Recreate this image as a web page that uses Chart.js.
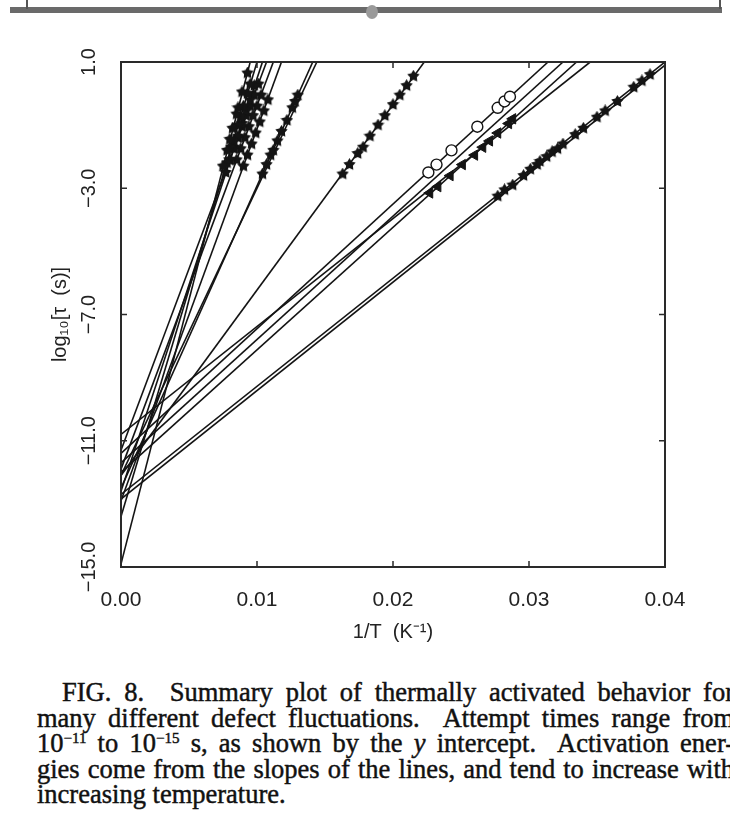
<!DOCTYPE html>
<html>
<head>
<meta charset="utf-8">
<script src="https://cdn.jsdelivr.net/npm/chart.js@4.4.1/dist/chart.umd.min.js"></script>
<style>
  html, body { margin: 0; padding: 0; background: #fff; width: 730px; height: 817px; overflow: hidden; position: relative; }
  #plot { position: absolute; left: 0; top: 0; }
  .rule { position: absolute; left: 10px; top: 7px; width: 712px; height: 6px; background: #6a6a6a; }
  .rule-l { position: absolute; left: 26px; top: 0; width: 2px; height: 9px; background: #555; }
  .rule-r { position: absolute; left: 719px; top: 0; width: 2px; height: 9px; background: #555; }
  .pin { position: absolute; left: 366px; top: 5px; width: 12px; height: 14px; border-radius: 50%; background: #9a9a9a; }
  .caption { position: absolute; left: 37px; top: 680px; width: 697px;
             font-family: "Liberation Serif", "Times New Roman", serif; font-size: 26.5px;
             line-height: 25.5px; color: #111; -webkit-text-stroke: 0.45px #111; }
  .caption .j { text-align: justify; text-align-last: justify; }
  .caption .first { text-indent: 25px; }
  .caption sup { font-size: 15px; line-height: 0; vertical-align: 9px; }
</style>
</head>
<body>
<div class="rule"></div><div class="rule-l"></div><div class="rule-r"></div><div class="pin"></div>
<canvas id="plot" width="730" height="650"></canvas>
<div class="caption">
  <div class="j first">FIG. 8.&nbsp; Summary plot of thermally activated behavior for</div>
  <div class="j">many different defect fluctuations.&nbsp; Attempt times range from</div>
  <div class="j">10<sup>−11</sup> to 10<sup>−15</sup> s, as shown by the <i>y</i> intercept.&nbsp; Activation ener-</div>
  <div class="j">gies come from the slopes of the lines, and tend to increase with</div>
  <div>increasing temperature.</div>
</div>
<script>
// Axis ticks and labels
const xTicks = [0, 0.01, 0.02, 0.03, 0.04];
const xTickLabels = ['0.00', '0.01', '0.02', '0.03', '0.04'];
const yTicks = [-15, -11, -7, -3, 1];
const yTickLabels = ['\u221215.0', '\u221211.0', '\u22127.0', '\u22123.0', '1.0'];
const xTitle = '1/T  (K\u207B\u00B9)';
const yTitle = 'log\u2081\u2080[\u03C4  (s)]';

// Arrhenius fit lines: intercept at 1/T = 0, running up to the end point
const fitIntercepts = [-14.9, -13.4, -12.6, -11.3, -11.9, -12.9, -12.5, -12.1, -12.1, -11.4, -11.7, -12.0, -10.8, -12.7, -12.85];
const fitEndX = [0.0095, 0.0100, 0.0104, 0.0107, 0.0112, 0.0118, 0.0141, 0.0144, 0.0223, 0.0314, 0.0325, 0.0335, 0.0345, 0.0400, 0.0400];
const fitEndY = [1.0, 1.0, 1.0, 1.0, 1.0, 1.0, 1.0, 1.0, 1.0, 1.0, 1.0, 1.0, 1.0, 1.0, 0.9];

// Measured points [1/T, log10 tau]
const starsA1 = [[0.0075,-2.3],[0.0078,-1.8],[0.0080,-1.45],[0.0082,-1.1],[0.0085,-0.65],[0.0086,-0.45],[0.0089,0.05],[0.0093,0.65]];
const starsA2 = [[0.0078,-2.2],[0.0081,-1.7],[0.0083,-1.5],[0.0086,-1.0],[0.0088,-0.75],[0.0090,-0.4],[0.0093,0.0],[0.0095,0.3]];
const starsA3 = [[0.0077,-2.5],[0.0080,-2.1],[0.0083,-1.7],[0.0086,-1.35],[0.0089,-0.95],[0.0092,-0.55],[0.0095,-0.2],[0.0098,0.25]];
const starsA4 = [[0.0080,-2.1],[0.0083,-1.75],[0.0086,-1.4],[0.0089,-1.05],[0.0092,-0.7],[0.0095,-0.4],[0.0098,-0.05],[0.0101,0.3]];
const starsA5 = [[0.0085,-2.1],[0.0088,-1.75],[0.0091,-1.4],[0.0094,-1.05],[0.0097,-0.7],[0.0100,-0.4],[0.0103,-0.05]];
const starsA6 = [[0.0090,-2.3],[0.0093,-1.95],[0.0096,-1.6],[0.0099,-1.25],[0.0102,-0.9],[0.0105,-0.55],[0.0108,-0.2]];
const starsD = [[0.0104,-2.55],[0.0107,-2.25],[0.0110,-1.95],[0.0112,-1.8],[0.0115,-1.5],[0.0118,-1.2],[0.0122,-0.85],[0.0126,-0.45],[0.0128,-0.25],[0.0130,-0.05]];
const starsC = [[0.0163,-2.55],[0.0168,-2.25],[0.0174,-1.9],[0.0178,-1.7],[0.0183,-1.35],[0.0189,-1.0],[0.0194,-0.7],[0.0200,-0.35],[0.0205,-0.05],[0.0210,0.25],[0.0215,0.55]];
const circlesB = [[0.0226,-2.5],[0.0232,-2.25],[0.0243,-1.8],[0.0262,-1.05],[0.0277,-0.45],[0.0282,-0.25],[0.0286,-0.1]];
const trianglesB = [[0.0227,-3.15],[0.0233,-2.95],[0.0242,-2.6],[0.0251,-2.25],[0.0260,-1.95],[0.0266,-1.7],[0.0271,-1.5],[0.0277,-1.25],[0.0285,-0.95],[0.0288,-0.8]];
const starsL = [[0.0277,-3.25],[0.0282,-3.05],[0.0288,-2.9],[0.0296,-2.6],[0.0301,-2.4],[0.0306,-2.25],[0.0308,-2.15],[0.0313,-2.0],[0.0317,-1.85],[0.0321,-1.75],[0.0325,-1.6],[0.0334,-1.3],[0.0340,-1.1],[0.0350,-0.75],[0.0356,-0.55],[0.0365,-0.25],[0.0377,0.2],[0.0383,0.4],[0.0389,0.6]];

const ink = '#141414';
const axisFont = { family: '"Liberation Sans", Arial, sans-serif', size: 21 };

function starImage(size) {
  const c = document.createElement('canvas');
  c.width = size; c.height = size;
  const g = c.getContext('2d');
  const r = size / 2, ri = r * 0.55;
  g.beginPath();
  for (let i = 0; i < 10; i++) {
    const a = -Math.PI / 2 + i * Math.PI / 5;
    const rr = i % 2 ? ri : r;
    g.lineTo(r + rr * Math.cos(a), r + rr * Math.sin(a));
  }
  g.closePath();
  g.fillStyle = ink;
  g.fill();
  return c;
}
const star = starImage(13);

const toPoints = arr => arr.map(p => ({ x: p[0], y: p[1] }));
const starSet = arr => ({ data: toPoints(arr), pointStyle: star, pointRadius: 6.5, showLine: false, order: 0 });

const datasets = [
  starSet(starsA1), starSet(starsA2), starSet(starsA3), starSet(starsA4), starSet(starsA5), starSet(starsA6),
  starSet(starsD), starSet(starsC), starSet(starsL),
  { data: toPoints(trianglesB), pointStyle: 'triangle', rotation: -90, pointRadius: 6, backgroundColor: ink, borderColor: ink, borderWidth: 1, showLine: false, order: 0 },
  { data: toPoints(circlesB), pointStyle: 'circle', pointRadius: 5.5, backgroundColor: '#fff', borderColor: ink, borderWidth: 1.4, showLine: false, order: 0 }
];
fitIntercepts.forEach((b, i) => {
  datasets.push({
    data: [{ x: 0, y: b }, { x: fitEndX[i], y: fitEndY[i] }],
    showLine: true, pointRadius: 0, borderColor: ink, borderWidth: 1.6, fill: false, order: 1
  });
});

// Closed frame with inward tick marks on all four sides
const frameTicks = {
  id: 'frameTicks',
  afterDatasetsDraw(chart) {
    const { ctx, chartArea: a, scales: { x, y } } = chart;
    ctx.save();
    ctx.strokeStyle = '#2a2a2a';
    ctx.lineWidth = 2;
    ctx.strokeRect(a.left, a.top, a.right - a.left, a.bottom - a.top);
    ctx.lineWidth = 1.5;
    ctx.beginPath();
    x.ticks.forEach(t => {
      const px = x.getPixelForValue(t.value);
      ctx.moveTo(px, a.bottom); ctx.lineTo(px, a.bottom - 6);
      ctx.moveTo(px, a.top); ctx.lineTo(px, a.top + 6);
    });
    y.ticks.forEach(t => {
      const py = y.getPixelForValue(t.value);
      ctx.moveTo(a.left, py); ctx.lineTo(a.left + 6, py);
      ctx.moveTo(a.right, py); ctx.lineTo(a.right - 6, py);
    });
    ctx.stroke();
    ctx.restore();
  }
};

new Chart(document.getElementById('plot'), {
  type: 'scatter',
  data: { datasets },
  options: {
    responsive: false,
    animation: false,
    devicePixelRatio: 1,
    layout: { padding: { top: 62, right: 65, left: 0, bottom: 0 } },
    plugins: { legend: { display: false }, tooltip: { enabled: false } },
    scales: {
      x: {
        type: 'linear', min: 0, max: 0.04,
        afterBuildTicks: s => { s.ticks = xTicks.map(v => ({ value: v })); },
        afterFit: s => { s.height = 83; },
        grid: { display: false, drawTicks: false },
        border: { display: false },
        ticks: { callback: (v, i) => xTickLabels[i], font: axisFont, color: '#222', padding: 21, autoSkip: false, maxRotation: 0 },
        title: { display: true, text: xTitle, font: { family: axisFont.family, size: 20 }, color: '#222', padding: { top: 0, bottom: 6 } }
      },
      y: {
        type: 'linear', min: -15, max: 1,
        afterBuildTicks: s => { s.ticks = yTicks.map(v => ({ value: v })); },
        afterFit: s => { s.width = 121; },
        grid: { display: false, drawTicks: false },
        border: { display: false },
        ticks: { callback: (v, i) => yTickLabels[i], font: { family: axisFont.family, size: 20 }, color: '#222', padding: 6, autoSkip: false, minRotation: 90, maxRotation: 90, crossAlign: 'center' },
        title: { display: true, text: yTitle, font: { family: axisFont.family, size: 20 }, color: '#222', padding: { top: 48, bottom: 0 } }
      }
    }
  },
  plugins: [frameTicks]
});
</script>
</body>
</html>
